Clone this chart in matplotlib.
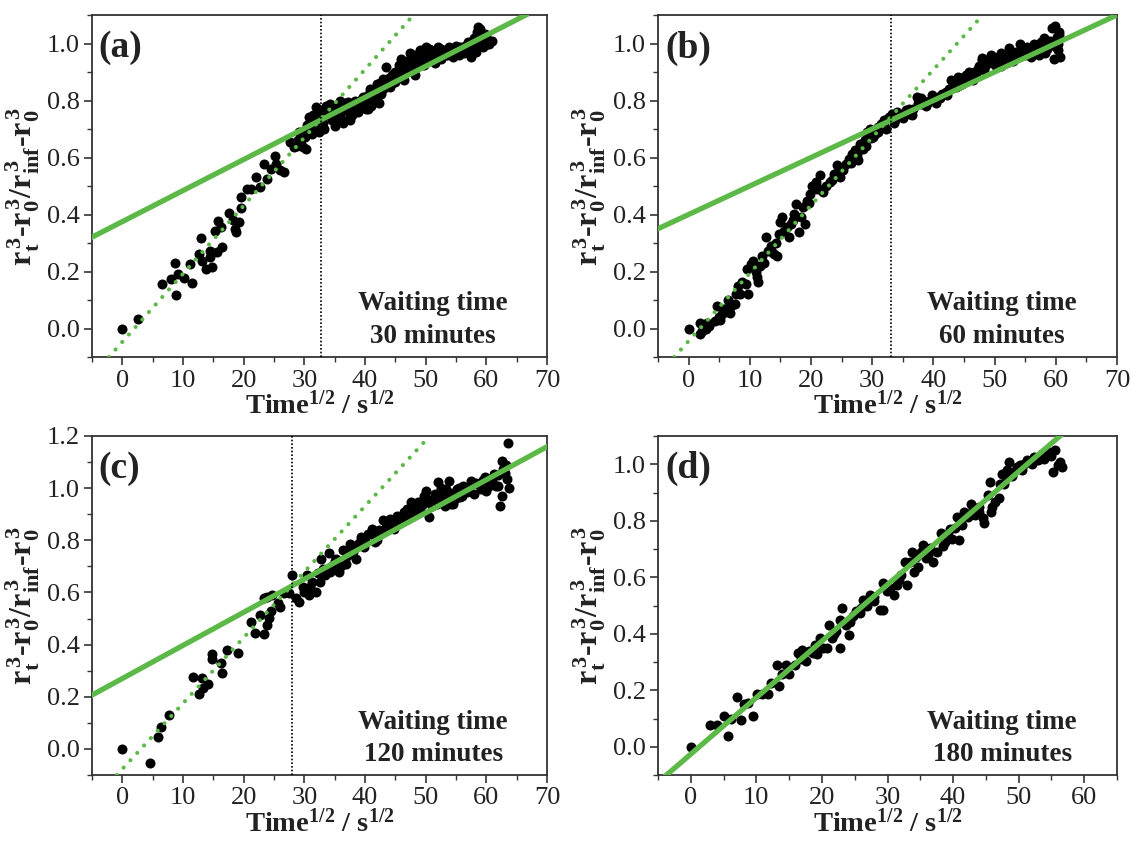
import matplotlib
matplotlib.use("Agg")
import matplotlib.pyplot as plt
from matplotlib.ticker import MultipleLocator

plt.rcParams['font.family'] = ['Liberation Serif', 'DejaVu Serif']
plt.rcParams['mathtext.fontset'] = 'custom'
plt.rcParams['mathtext.rm'] = 'Liberation Serif'
plt.rcParams['mathtext.bf'] = 'Liberation Serif:bold'
plt.rcParams['mathtext.it'] = 'Liberation Serif:italic'

# ---- data ----
x_a = [0, 2.5, 6.5, 8.0, 8.7, 8.8, 9.1, 10.2, 11.2, 11.5, 12.9, 12.7, 13.2, 13.8, 14.4, 14.7, 14.4,
       15.3, 15.7, 16.2, 16.5, 15.6, 17.5, 18.2, 18.5, 18.8, 19.3, 19.5, 19.5, 20.6, 21.2, 22.1, 22.7,
       23.3, 23.9, 24.5, 25.1, 25.4, 26.0, 26.7, 27.7, 28.3, 28.9, 29.2, 29.8, 30.1, 30.4, 30.8, 31.3,
       31.9, 31.6, 32.2, 32.8, 33.4, 34.3, 34.6, 35.2, 35.8, 36.1, 36.7, 37.2, 37.8, 38.4, 39.0, 39.6,
       40.2, 40.8, 41.7, 42.0, 42.6, 42.9, 43.5, 44.1, 44.4, 45.0, 45.6, 45.9, 46.5, 47.1, 47.4, 48.0,
       48.3, 48.8, 49.1, 49.7, 50.0, 50.6, 50.9, 51.5, 52.0, 52.6, 53.3, 53.9, 54.5, 55.1, 55.7, 56.3,
       56.9, 57.5, 58.1, 58.6, 58.9, 59.5, 59.8, 60.1, 60.5,
       30.5, 31.0, 31.5, 32.0, 32.5, 33.0, 33.5, 34.0, 34.5, 35.0, 35.5, 36.0, 36.5, 37.0, 37.5, 38.0,
       38.5, 39.0, 39.5, 40.0, 40.5, 41.0, 41.5, 42.0, 42.5, 43.0, 43.5, 44.0, 44.5, 45.0, 45.5, 46.0,
       46.5, 47.0, 47.5, 48.0, 48.5, 49.0, 49.5, 50.0, 50.5, 51.0, 51.5, 52.0, 52.5, 53.0, 53.5, 54.0,
       54.5, 55.0, 55.5, 56.0, 56.5, 57.0, 57.5, 58.0, 58.5, 59.0, 59.5, 60.0, 60.5, 59.2, 58.3, 61.0,
       28.8, 29.5, 30.2, 31.2, 32.4, 33.2, 35.0, 36.3, 37.5, 38.8, 40.5, 42.3, 41.0]
y_a = [0.0, 0.033, 0.156, 0.174, 0.23, 0.117, 0.19, 0.177, 0.226, 0.158, 0.318, 0.26, 0.238, 0.209,
       0.25, 0.215, 0.273, 0.343, 0.376, 0.355, 0.285, 0.267, 0.404, 0.379, 0.349, 0.338, 0.373, 0.423,
       0.463, 0.49, 0.49, 0.531, 0.498, 0.578, 0.525, 0.56, 0.607, 0.578, 0.555, 0.549, 0.654, 0.637,
       0.66, 0.689, 0.637, 0.672, 0.713, 0.742, 0.684, 0.777, 0.707, 0.73, 0.766, 0.748, 0.789, 0.73,
       0.76, 0.8, 0.736, 0.766, 0.795, 0.748, 0.8, 0.771, 0.812, 0.771, 0.842, 0.795, 0.859, 0.824,
       0.877, 0.918, 0.847, 0.889, 0.865, 0.924, 0.947, 0.871, 0.918, 0.965, 0.936, 0.889, 0.947, 0.977,
       0.924, 0.988, 0.953, 0.977, 0.93, 0.988, 0.947, 0.959, 0.988, 0.953, 0.971, 0.988, 0.965, 1.006,
       0.953, 1.0, 1.059, 1.023, 0.988, 1.035, 1.0, 1.006,
       0.70, 0.72, 0.75, 0.70, 0.74, 0.72, 0.78, 0.75, 0.77, 0.74, 0.78, 0.76, 0.79, 0.77, 0.75, 0.79,
       0.77, 0.80, 0.78, 0.80, 0.82, 0.81, 0.84, 0.82, 0.86, 0.84, 0.87, 0.88, 0.86, 0.90, 0.88, 0.91,
       0.90, 0.94, 0.92, 0.96, 0.93, 0.95, 0.97, 0.94, 0.98, 0.96, 0.97, 0.95, 0.98, 0.97, 0.96, 0.98,
       0.97, 0.99, 0.96, 0.98, 0.99, 0.98, 1.00, 1.02, 1.04, 1.05, 1.01, 1.03, 1.00, 0.99, 0.97, 1.01,
       0.64, 0.66, 0.63, 0.71, 0.69, 0.70, 0.71, 0.72, 0.73, 0.76, 0.77, 0.79, 0.78]

x_b = [0, 1.8, 1.9, 2.2, 2.8, 3.4, 4.3, 4.6, 4.9, 5.5, 5.8, 6.4, 6.7, 7.5, 7.7, 8.1, 8.7, 9.3, 9.7,
       9.6, 10.2, 10.5, 11.1, 11.4, 11.7, 12.0, 12.6, 13.0, 13.4, 14.0, 14.4, 14.8, 15.0, 15.3, 15.6,
       16.1, 16.4, 16.8, 17.3, 17.6, 18.0, 18.3, 18.7, 19.0, 19.3, 19.9, 20.2, 20.8, 21.4, 21.5, 22.0,
       22.4, 23.1, 23.7, 24.2, 24.7, 25.2, 25.8, 26.2, 26.7, 27.2, 27.6, 28.0, 28.5, 28.9, 29.2, 29.6,
       30.1, 30.5, 30.9, 31.4, 31.9, 32.3, 32.8, 33.2, 33.8, 34.4, 34.9, 35.5, 36.1, 36.7, 37.3, 37.9,
       38.5, 39.1, 39.7, 40.2, 40.8, 41.4, 42.0, 42.6, 42.9, 43.7, 44.1, 44.7, 45.3, 45.8, 46.4, 46.7,
       47.3, 47.9, 48.2, 48.8, 49.4, 50.0, 50.6, 51.1, 51.7, 52.3, 52.9, 53.5, 54.1, 54.7, 55.3, 55.9,
       56.5, 57.0, 57.6, 58.2, 58.8, 59.4, 59.7, 60.2, 60.4, 60.6, 60.7, 60.0,
       31.0, 32.0, 33.5, 34.0, 35.0, 36.0, 36.5, 37.5, 38.0, 38.8, 39.5, 40.5, 41.0, 42.3, 43.2, 44.0,
       44.5, 45.5, 46.0, 47.0, 47.5, 48.5, 49.0, 50.3, 51.0, 51.5, 52.0, 53.0, 53.8, 54.4, 55.0, 55.6,
       56.2, 57.3, 57.9, 58.5, 59.0, 59.6, 60.3, 60.5, 59.8, 58.0, 56.8, 49.8, 48.0,
       3.0, 5.2, 6.0, 7.0, 8.4, 11.0, 12.3, 13.6, 14.2, 17.0, 19.6, 21.0, 23.5, 24.4, 26.5, 27.5,
       29.0, 29.8]
y_b = [0.0, 0.018, -0.02, -0.01, -0.002, 0.01, 0.027, 0.08, 0.04, 0.05, 0.068, 0.10, 0.056, 0.086,
       0.12, 0.15, 0.162, 0.156, 0.12, 0.21, 0.226, 0.238, 0.18, 0.162, 0.22, 0.256, 0.32, 0.273, 0.29,
       0.26, 0.256, 0.332, 0.373, 0.39, 0.343, 0.355, 0.32, 0.367, 0.402, 0.437, 0.338, 0.39, 0.425,
       0.367, 0.449, 0.472, 0.50, 0.513, 0.537, 0.49, 0.478, 0.50, 0.513, 0.543, 0.572, 0.531, 0.555,
       0.578, 0.596, 0.613, 0.625, 0.59, 0.648, 0.63, 0.66, 0.689, 0.701, 0.672, 0.683, 0.707, 0.719,
       0.73, 0.701, 0.742, 0.754, 0.73, 0.748, 0.754, 0.766, 0.754, 0.771, 0.812, 0.789, 0.80, 0.795,
       0.818, 0.80, 0.812, 0.824, 0.83, 0.842, 0.871, 0.847, 0.883, 0.859, 0.889, 0.90, 0.871, 0.90,
       0.912, 0.941, 0.906, 0.941, 0.959, 0.924, 0.953, 0.965, 0.935, 0.983, 0.953, 0.971, 1.0, 0.965,
       0.988, 0.953, 1.0, 0.977, 1.006, 0.965, 1.0, 1.053, 0.947, 1.023, 0.977, 1.04, 0.953, 0.988,
       0.69, 0.71, 0.72, 0.76, 0.74, 0.77, 0.75, 0.79, 0.81, 0.78, 0.80, 0.79, 0.81, 0.82, 0.86, 0.85,
       0.88, 0.87, 0.88, 0.89, 0.92, 0.92, 0.93, 0.94, 0.92, 0.95, 0.96, 0.94, 0.96, 0.98, 0.96, 0.97,
       0.99, 0.96, 0.99, 0.98, 1.01, 1.00, 1.00, 1.03, 1.06, 1.02, 0.98, 0.95, 0.95,
       0.02, 0.03, 0.07, 0.08, 0.12, 0.20, 0.23, 0.27, 0.30, 0.38, 0.44, 0.49, 0.52, 0.55, 0.58, 0.61,
       0.64, 0.67]

x_c = [0, 4.6, 5.9, 6.4, 7.7, 11.6, 12.6, 13.2, 13.3, 14.1, 14.7, 14.8, 16.3, 16.5, 17.2, 19.0, 21.2,
       21.8, 22.7, 23.3, 23.9, 24.2, 24.5, 23.3, 23.9, 24.7, 25.7, 26.0, 26.6, 27.4, 28.0, 28.6, 29.2,
       29.8, 30.4, 30.7, 31.3, 31.9, 32.2, 32.8, 33.4, 34.0, 34.6, 35.2, 35.7, 36.3, 36.9, 37.5, 38.1,
       38.7, 39.3, 39.9, 40.5, 41.1, 41.7, 42.3, 42.9, 43.5, 44.1, 44.7, 45.3, 45.8, 46.4, 47.0, 47.6,
       48.2, 48.8, 49.7, 50.0, 50.6, 50.9, 51.5, 52.1, 52.7, 53.3, 53.9, 54.5, 55.1, 55.7, 56.2, 56.8,
       57.4, 58.0, 58.6, 59.2, 59.8, 60.4, 60.7, 61.3, 61.6, 62.2, 62.5, 62.5, 62.8, 63.4, 63.5, 63.7,
       30.0, 31.0, 32.5, 33.0, 34.3, 35.0, 36.0, 37.0, 37.8, 38.5, 39.0, 40.0, 41.5, 42.0, 43.0, 44.0,
       45.0, 46.0, 46.8, 47.3, 48.0, 49.0, 49.5, 50.3, 51.0, 52.0, 53.0, 54.0, 55.5, 57.0, 58.3, 59.5,
       60.0, 61.0, 62.0, 63.0, 63.2, 62.0, 56.0, 54.8, 53.5, 51.8, 52.5, 53.2, 54.2]
y_c = [0.0, -0.053, 0.047, 0.083, 0.13, 0.276, 0.21, 0.273, 0.235, 0.248, 0.364, 0.343, 0.33, 0.292,
       0.378, 0.368, 0.486, 0.444, 0.514, 0.44, 0.476, 0.502, 0.527, 0.578, 0.584, 0.59, 0.56, 0.546,
       0.597, 0.597, 0.667, 0.578, 0.565, 0.622, 0.667, 0.59, 0.641, 0.603, 0.673, 0.73, 0.667, 0.75,
       0.70, 0.73, 0.68, 0.762, 0.711, 0.787, 0.756, 0.781, 0.813, 0.775, 0.825, 0.844, 0.794, 0.838,
       0.876, 0.851, 0.883, 0.844, 0.895, 0.883, 0.908, 0.921, 0.946, 0.933, 0.946, 0.971, 0.99, 0.889,
       0.946, 0.978, 1.022, 0.959, 0.997, 1.029, 0.94, 0.997, 0.965, 1.01, 0.984, 1.029, 0.978, 1.016,
       0.997, 1.041, 1.01, 1.022, 1.054, 1.01, 0.931, 0.971, 1.105, 1.073, 1.035, 1.172, 0.999,
       0.60, 0.62, 0.64, 0.69, 0.68, 0.72, 0.70, 0.74, 0.76, 0.73, 0.79, 0.80, 0.82, 0.80, 0.83, 0.86,
       0.87, 0.89, 0.88, 0.90, 0.91, 0.92, 0.94, 0.96, 0.93, 0.97, 0.99, 0.98, 1.00, 1.00, 1.02, 1.03,
       0.99, 1.03, 1.05, 1.06, 1.09, 1.01, 0.97, 0.96, 0.95, 0.94, 1.00, 0.93, 0.94]

x_d = [0, 2.9, 4.0, 5.0, 5.7, 6.2, 7.0, 7.6, 8.1, 8.8, 9.5, 10.1, 10.9, 11.7, 12.3, 13.1, 13.4, 13.9,
       14.5, 15.0, 15.9, 16.4, 17.0, 17.5, 18.1, 18.6, 19.2, 19.7, 20.1, 20.8, 21.1, 21.6, 22.2, 22.7,
       23.0, 22.8, 23.6, 24.1, 24.7, 25.2, 25.8, 26.3, 26.9, 27.4, 28.0, 28.8, 29.3, 29.3, 29.9, 30.4,
       31.0, 31.5, 32.1, 32.6, 32.9, 33.5, 33.7, 34.0, 34.6, 35.1, 35.4, 35.9, 36.5, 37.0, 37.6, 38.1,
       38.7, 39.2, 39.8, 40.3, 40.6, 40.9, 41.4, 41.7, 42.3, 42.8, 43.4, 43.9, 44.5, 44.7, 45.3, 45.6,
       45.8, 46.4, 47.0, 47.2, 47.5, 48.0, 48.6, 49.1, 49.7, 50.2, 50.8, 51.3, 51.9, 52.4, 53.0, 53.5,
       54.1, 54.6, 55.2, 55.5, 56.0, 56.3, 56.6,
       31.8, 34.3, 36.2, 38.4, 39.5, 41.0, 43.0, 44.0, 46.0, 47.8, 49.0, 50.5, 52.0, 53.8, 55.0, 48.3,
       26.0, 27.9, 24.3, 21.9, 19.0, 16.8]
y_d = [0.0, 0.078, 0.078, 0.109, 0.039, 0.098, 0.176, 0.095, 0.15, 0.156, 0.109, 0.186, 0.186, 0.186,
       0.227, 0.291, 0.214, 0.256, 0.288, 0.256, 0.291, 0.332, 0.344, 0.303, 0.338, 0.332, 0.327, 0.385,
       0.35, 0.35, 0.432, 0.385, 0.409, 0.45, 0.491, 0.35, 0.432, 0.397, 0.462, 0.479, 0.473, 0.52,
       0.497, 0.538, 0.515, 0.485, 0.579, 0.485, 0.55, 0.562, 0.538, 0.573, 0.608, 0.655, 0.573, 0.655,
       0.69, 0.62, 0.638, 0.69, 0.714, 0.667, 0.703, 0.655, 0.69, 0.755, 0.726, 0.749, 0.737, 0.773,
       0.814, 0.732, 0.785, 0.832, 0.814, 0.861, 0.82, 0.849, 0.808, 0.791, 0.89, 0.937, 0.832, 0.867,
       0.879, 0.931, 0.967, 0.955, 1.008, 0.973, 0.99, 0.996, 1.002, 1.014, 1.008, 1.025, 1.014, 1.037,
       1.031, 1.043, 0.973, 1.049, 0.996, 1.008, 0.99,
       0.59, 0.67, 0.68, 0.71, 0.77, 0.80, 0.84, 0.83, 0.85, 0.93, 0.96, 0.98, 1.00, 1.02, 1.03, 0.98,
       0.49, 0.53, 0.44, 0.40, 0.36, 0.31]

panels = ['(a)', '(b)', '(c)', '(d)']
waiting = ['30 minutes', '60 minutes', '120 minutes', '180 minutes']
# late-stage fit (solid) and early-stage fit (dotted): slope, intercept
fit_late = [(0.0109, 0.375), (0.0100, 0.400), (0.0127, 0.270), (0.0200, -0.026)]
fit_early = [(0.0239, -0.047), (0.0238, -0.044), (0.0252, -0.077), None]
x_break = [32.7, 33.0, 28.0, None]
xlims = [(-5, 70), (-5, 70), (-5, 70), (-5, 65)]
ylims = [(-0.1, 1.1), (-0.1, 1.1), (-0.1, 1.2), (-0.1, 1.1)]
yticks = [[0.0, 0.2, 0.4, 0.6, 0.8, 1.0], [0.0, 0.2, 0.4, 0.6, 0.8, 1.0],
          [0.0, 0.2, 0.4, 0.6, 0.8, 1.0, 1.2], [0.0, 0.2, 0.4, 0.6, 0.8, 1.0]]
xticks = [list(range(0, 71, 10))] * 3 + [list(range(0, 61, 10))]
data = [(x_a, y_a), (x_b, y_b), (x_c, y_c), (x_d, y_d)]

green = '#5cb947'
W, H = 1131, 841
boxes = [(92, 15, 547, 357), (658, 15, 1117, 357), (92, 436, 547, 775), (658, 436, 1117, 775)]

fig = plt.figure(figsize=(W / 100, H / 100), dpi=100)

ylab = (r'r$_\mathbf{t}^{\,\mathbf{3}}$-r$_\mathbf{0}^{\,\mathbf{3}}$/r$_\mathbf{inf}^{\,\mathbf{3}}$'
        r'-r$_\mathbf{0}^{\,\mathbf{3}}$')
xlab = r'Time$^\mathbf{1/2}$ / s$^\mathbf{1/2}$'

for i in range(4):
    l, t, r, b = boxes[i]
    ax = fig.add_axes([l / W, 1 - b / H, (r - l) / W, (b - t) / H])
    xs, ys = data[i]
    ax.scatter(xs, ys, s=52, color='black', zorder=2, linewidths=0)

    m, c = fit_late[i]
    ax.axline((0, c), slope=m, color=green, lw=3.8, zorder=3)
    if fit_early[i] is not None:
        m2, c2 = fit_early[i]
        ax.axline((0, c2), slope=m2, color=green, lw=3.0,
                  linestyle=(0, (0.01, 2.4)), dash_capstyle='round', zorder=3)
    if x_break[i] is not None:
        ax.axvline(x_break[i], color='black', lw=1.2, linestyle=(0, (1, 1.2)), zorder=4)

    ax.set_xlim(*xlims[i])
    ax.set_ylim(*ylims[i])
    ax.set_xticks(xticks[i])
    ax.set_yticks(yticks[i])
    ax.set_yticklabels(['%.1f' % v for v in yticks[i]])
    ax.xaxis.set_minor_locator(MultipleLocator(5))
    ax.yaxis.set_minor_locator(MultipleLocator(0.1))
    ax.tick_params(which='both', direction='out', top=False, right=False,
                   color='#333333', labelcolor='#222222', labelsize=19)
    ax.tick_params(which='major', length=6, width=1.2, pad=3)
    ax.tick_params(which='minor', length=3.5, width=1.0)
    for sp in ax.spines.values():
        sp.set_color('#333333')
        sp.set_linewidth(1.3)

    ax.set_xlabel(xlab, fontsize=20.5, fontweight='bold', labelpad=0, color='#222222')
    ax.set_ylabel(ylab, fontsize=23, fontweight='bold', labelpad=3, color='#222222')

    ax.text(0.015, 0.955, panels[i], transform=ax.transAxes, fontsize=27,
            fontweight='bold', ha='left', va='top', color='#222222')
    ax.text(0.75, 0.155, 'Waiting time', transform=ax.transAxes, fontsize=19.5,
            fontweight='bold', ha='center', va='center', color='#222222')
    ax.text(0.75, 0.06, waiting[i], transform=ax.transAxes, fontsize=19.5,
            fontweight='bold', ha='center', va='center', color='#222222')

fig.savefig('out.png', dpi=100)
